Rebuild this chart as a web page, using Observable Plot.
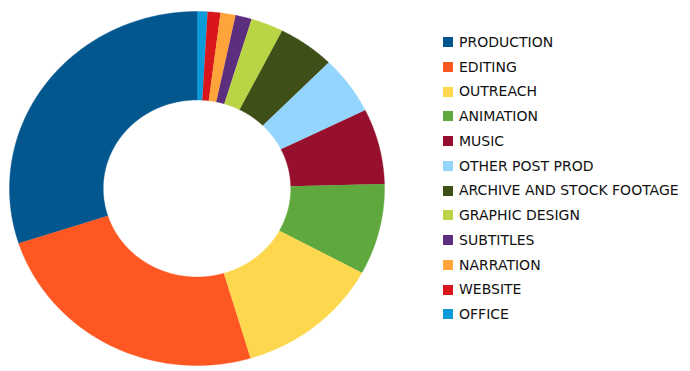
<!DOCTYPE html>
<html>
<head>
<meta charset="utf-8">
<script src="https://cdn.jsdelivr.net/npm/d3@7"></script>
<script src="https://cdn.jsdelivr.net/npm/@observablehq/plot@0.6"></script>
<style>
  html, body { margin: 0; padding: 0; background: #fff; }
  #wrap { position: relative; width: 690px; height: 371px; overflow: hidden; }
  #chart { position: absolute; left: 0; top: 0; }
  #legend { position: absolute; left: 443px; top: 29.8px; width: 247px; }
  div.lg-swatches-columns div.lg-swatch { height: 24.75px; padding-bottom: 0; margin: 0; line-height: 24.75px; }
  div.lg-swatches-columns div.lg-swatch > svg { margin-right: 6px; }
  div.lg-swatches-columns { margin: 0 !important; }
</style>
</head>
<body>
<div id="wrap"><div id="chart"></div><div id="legend"></div></div>
<script>
// Budget categories (legend order) and their shares (%)
const categories = ["PRODUCTION", "EDITING", "OUTREACH", "ANIMATION", "MUSIC", "OTHER POST PROD",
  "ARCHIVE AND STOCK FOOTAGE", "GRAPHIC DESIGN", "SUBTITLES", "NARRATION", "WEBSITE", "OFFICE"];
const shares = [30.0, 24.6, 12.5, 8.3, 6.9, 5.3, 4.9, 2.8, 1.4, 1.3, 1.1, 0.9];
const colors = ["#02578f", "#fe5722", "#fdd84f", "#5fa83e", "#96102d", "#93d5fd",
  "#3e4f17", "#b9d444", "#5c2e7e", "#ffa33b", "#d8161b", "#0b9bd9"];

// Slices are drawn clockwise from 12 o'clock starting with the last category.
const total = d3.sum(shares);
const inner = 0.5;
const pts = [];
let acc = 0;
for (let i = categories.length - 1; i >= 0; --i) {
  const a0 = acc / total * 2 * Math.PI;
  acc += shares[i];
  const a1 = acc / total * 2 * Math.PI;
  const n = Math.max(2, Math.ceil((a1 - a0) / (Math.PI / 360)));
  for (let k = 0; k <= n; ++k) {
    const a = a0 + (a1 - a0) * k / n;
    pts.push({name: categories[i], x: Math.sin(a), y: Math.cos(a)});
  }
  for (let k = n; k >= 0; --k) {
    const a = a0 + (a1 - a0) * k / n;
    pts.push({name: categories[i], x: inner * Math.sin(a), y: inner * Math.cos(a)});
  }
}

const color = {domain: categories, range: colors};

const chart = Plot.plot({
  width: 400,
  height: 371,
  margin: 0,
  x: {domain: [-1, 1], range: [9, 384], axis: null},
  y: {domain: [-1, 1], range: [365, 11], axis: null},
  color,
  marks: [
    Plot.line(pts, {x: "x", y: "y", z: "name", fill: "name", stroke: "name", strokeWidth: 0.4, curve: "linear"})
  ]
});
document.getElementById("chart").appendChild(chart);

const legend = Plot.legend({
  color,
  legend: "swatches",
  columns: 1,
  swatchSize: 10,
  className: "lg",
  style: {fontFamily: "'DejaVu Sans', sans-serif", fontSize: "14px", color: "#111"}
});
document.getElementById("legend").appendChild(legend);
</script>
</body>
</html>
